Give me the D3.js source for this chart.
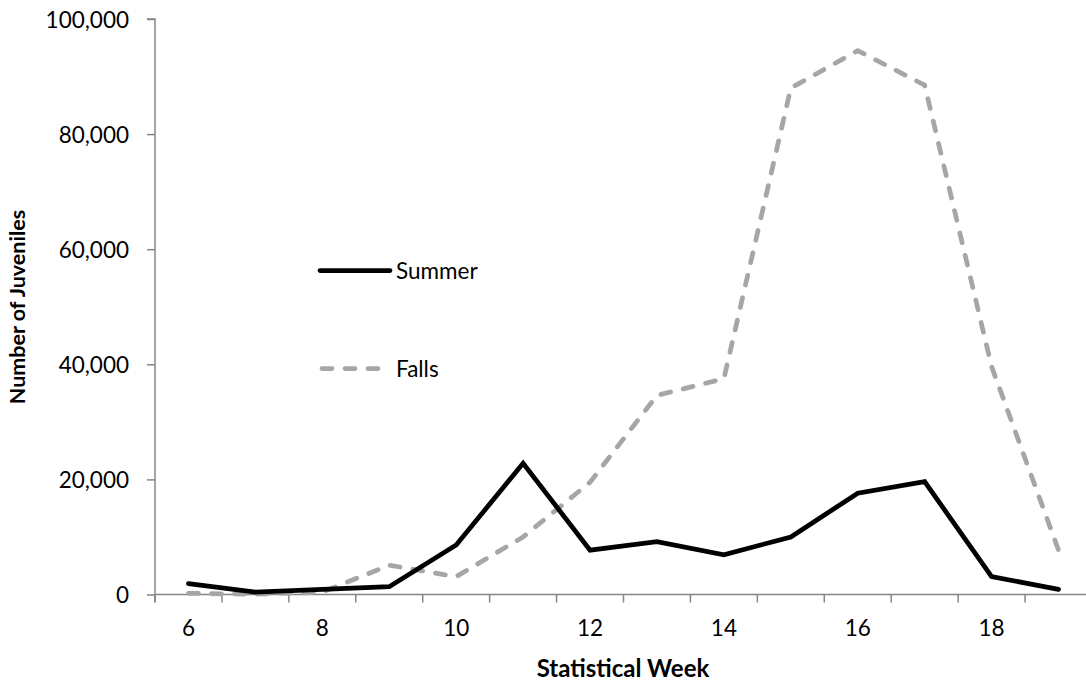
<!DOCTYPE html>
<html>
<head>
<meta charset="utf-8">
<script src="https://cdn.jsdelivr.net/npm/d3@7"></script>
<style>
  html, body { margin: 0; padding: 0; background: #fff; }
  svg { display: block; }
  text { font-family: Lato, "Open Sans", sans-serif; fill: #000; }
</style>
</head>
<body>
<svg id="chart" width="1086" height="683"></svg>
<script>
const weeks = [6, 7, 8, 9, 10, 11, 12, 13, 14, 15, 16, 17, 18, 19];
const summer = [1900, 400, 900, 1350, 8600, 22800, 7700, 9200, 6900, 10000, 17600, 19600, 3100, 900];
const falls = [200, 50, 400, 5100, 3100, 10000, 19500, 34600, 37500, 88000, 94500, 88500, 39600, 7700];
const xTickLabels = [6, 8, 10, 12, 14, 16, 18];
const yTicks = [0, 20000, 40000, 60000, 80000, 100000];
const seriesNames = ["Summer", "Falls"];

(function () {
const svg = d3.select("#chart");
const plotLeft = 155, plotRight = 1092, plotTop = 19, plotBottom = 594.5;
const axisColor = "#868686";
const labelSize = 22.5, titleSize = 24;

const x = d3.scaleBand().domain(weeks).range([plotLeft, plotRight]).paddingInner(0).paddingOuter(0);
const y = d3.scaleLinear().domain([0, 100000]).range([plotBottom, plotTop]);

// Y axis
const yAxis = d3.axisLeft(y).tickValues(yTicks).tickFormat(d3.format(",")).tickSize(8).tickPadding(18);
const gy = svg.append("g").attr("transform", `translate(${plotLeft},0)`).call(yAxis);
gy.select(".domain").attr("stroke", axisColor).attr("stroke-width", 1.5).attr("d", `M-8,${plotTop}H0V${plotBottom + 8}`);
gy.selectAll(".tick line").attr("stroke", axisColor).attr("stroke-width", 1.5);
gy.selectAll(".tick text").attr("font-size", labelSize).attr("font-family", "Lato, sans-serif").attr("fill", "#000").attr("dy", "0.36em");

// X axis (labels via axis, ticks between categories)
const xAxis = d3.axisBottom(x).tickValues(xTickLabels).tickSize(0).tickPadding(26);
const gx = svg.append("g").attr("transform", `translate(0,${plotBottom})`).call(xAxis);
gx.select(".domain").attr("stroke", axisColor).attr("stroke-width", 1.5).attr("d", `M${plotLeft},0H${plotRight}`);
gx.selectAll(".tick text").attr("font-size", labelSize).attr("font-family", "Lato, sans-serif").attr("fill", "#000");

const boundaries = weeks.map(w => x(w)).concat([x(weeks[weeks.length - 1]) + x.bandwidth()]);
svg.append("g").selectAll("line").data(boundaries).join("line")
  .attr("x1", d => d).attr("x2", d => d)
  .attr("y1", plotBottom).attr("y2", plotBottom + 8)
  .attr("stroke", axisColor).attr("stroke-width", 1.5);

// Lines
const line = d3.line().x((d, i) => x(weeks[i]) + x.bandwidth() / 2).y(d => y(d));

svg.append("path").datum(falls).attr("d", line)
  .attr("fill", "none").attr("stroke", "#a6a6a6").attr("stroke-width", 4.75)
  .attr("stroke-dasharray", "10,13").attr("stroke-linecap", "round").attr("stroke-linejoin", "round");

svg.append("path").datum(summer).attr("d", line)
  .attr("fill", "none").attr("stroke", "#000").attr("stroke-width", 4.75)
  .attr("stroke-linejoin", "miter").attr("stroke-linecap", "round");

// Legend
const legend = svg.append("g");
legend.append("line").attr("x1", 320).attr("x2", 390).attr("y1", 270.5).attr("y2", 270.5)
  .attr("stroke", "#000").attr("stroke-width", 4.75).attr("stroke-linecap", "round");
legend.append("text").attr("x", 396).attr("y", 270.5).attr("dy", "0.36em").attr("font-size", labelSize).text(seriesNames[0]);
legend.append("line").attr("x1", 322).attr("x2", 382).attr("y1", 368.5).attr("y2", 368.5)
  .attr("stroke", "#a6a6a6").attr("stroke-width", 4.75).attr("stroke-linecap", "round").attr("stroke-dasharray", "10,13");
legend.append("text").attr("x", 396).attr("y", 368.5).attr("dy", "0.36em").attr("font-size", labelSize).text(seriesNames[1]);

// Axis titles
svg.append("text").attr("x", 623).attr("y", 677).attr("text-anchor", "middle")
  .attr("font-size", titleSize).attr("font-weight", "bold").text("Statistical Week");
svg.append("text").attr("transform", "translate(25,307) rotate(-90)").attr("text-anchor", "middle")
  .attr("font-size", 21.5).attr("font-weight", "bold").text("Number of Juveniles");
})();
</script>
</body>
</html>
